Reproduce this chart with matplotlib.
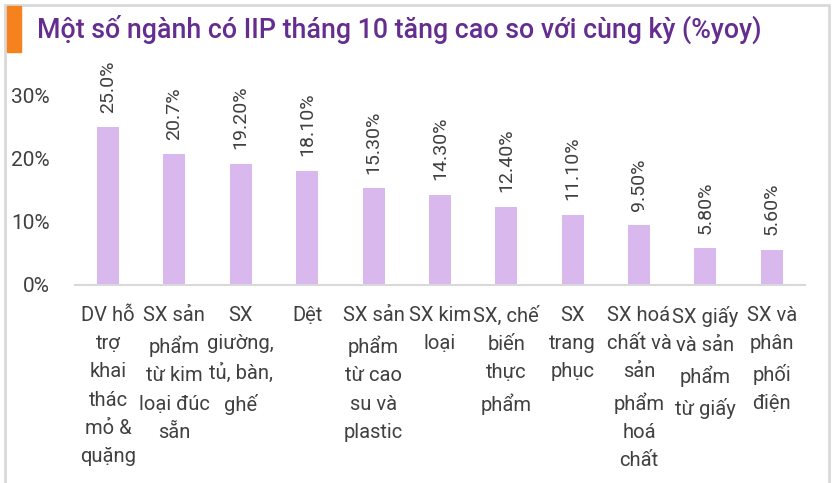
import matplotlib.pyplot as plt
from matplotlib.patches import Rectangle

categories = [
    "DV hỗ\ntrợ\nkhai\nthác\nmỏ &\nquặng",
    "SX sản\nphẩm\ntừ kim\nloại đúc\nsẵn",
    "SX\ngiường,\ntủ, bàn,\nghế",
    "Dệt",
    "SX sản\nphẩm\ntừ cao\nsu và\nplastic",
    "SX kim\nloại",
    "SX, chế\nbiến\nthực\nphẩm",
    "SX\ntrang\nphục",
    "SX hoá\nchất và\nsản\nphẩm\nhoá\nchất",
    "SX giấy\nvà sản\nphẩm\ntừ giấy",
    "SX và\nphân\nphối\nđiện",
]
values = [25.0, 20.7, 19.2, 18.1, 15.3, 14.3, 12.4, 11.1, 9.5, 5.8, 5.6]
value_labels = ["25.0%", "20.7%", "19.20%", "18.10%", "15.30%", "14.30%",
                "12.40%", "11.10%", "9.50%", "5.80%", "5.60%"]
y_ticks = [0, 10, 20, 30]
y_tick_labels = ["0%", "10%", "20%", "30%"]
title = "Một số ngành có IIP tháng 10 tăng cao so với cùng kỳ (%yoy)"

plt.rcParams["font.family"] = ["Roboto", "DejaVu Sans"]

fig = plt.figure(figsize=(8.32, 4.83), dpi=100)
ax = fig.add_axes([0.09, 0.41, 0.8775, 0.47])

x = list(range(len(values)))
ax.bar(x, values, width=0.33, color="#d9b8ee")

for xi, v, lab in zip(x, values, value_labels):
    ax.text(xi, v + 2.3, lab, rotation=90, ha="center", va="bottom",
            fontsize=14, color="#404040")

ax.set_xlim(-0.5, len(values) - 0.5)
ax.set_ylim(0, 36)
ax.set_yticks(y_ticks)
ax.set_yticklabels(y_tick_labels, fontsize=15, color="#404040")
ax.set_xticks(x)
ax.set_xticklabels(categories, fontsize=14.5, color="#404040",
                   linespacing=1.62, va="top")
ax.tick_params(axis="both", length=0)
ax.tick_params(axis="y", pad=18)
ax.tick_params(axis="x", pad=15)

for side in ["top", "right", "left"]:
    ax.spines[side].set_visible(False)
ax.spines["bottom"].set_color("#d9d9d9")
ax.spines["bottom"].set_linewidth(1.5)

# frame and title block
fig.patches.append(Rectangle((0.006, -0.01), 0.99, 1.0, transform=fig.transFigure,
                             fill=False, edgecolor="#d9d9d9", linewidth=2))
fig.patches.append(Rectangle((0.008, 1 - 52 / 483), 0.017, 46 / 483,
                             transform=fig.transFigure, color="#f5821f"))
fig.text(0.045, 1 - 29 / 483, title, fontsize=19.3, color="#642d8f",
         fontweight="medium", ha="left", va="center")

fig.savefig("out.png", dpi=100, facecolor="white")
